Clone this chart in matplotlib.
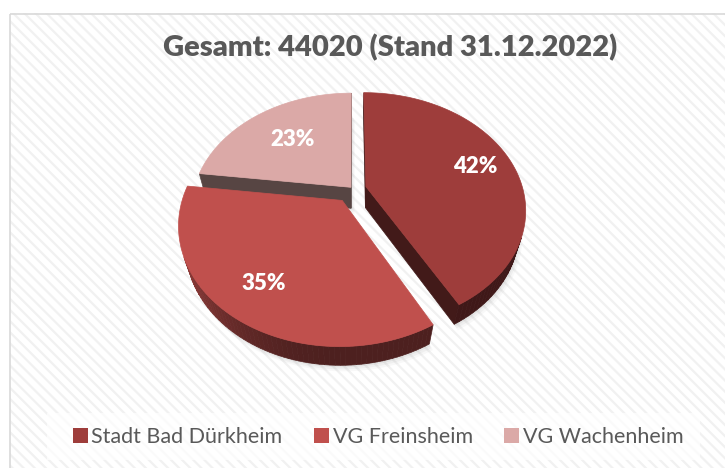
import numpy as np
import matplotlib.pyplot as plt
from matplotlib.patches import Rectangle, Patch

plt.rcParams['font.family'] = ['Lato', 'DejaVu Sans']
plt.rcParams['hatch.linewidth'] = 1.6

# data
labels = ['Stadt Bad Dürkheim', 'VG Freinsheim', 'VG Wachenheim']
shares = [42, 35, 23]
colors = ['#9e3d3b', '#c0504d', '#dba9a7']
title = 'Gesamt: 44020 (Stand 31.12.2022)'

explode = [0.085, 0.12, 0.02]
label_r = [0.75, 0.75, 0.62]

# fake 3d view (pixel coords of the figure)
cx, cy = 353, 189
S = 157
tilt = np.radians(46)
D = 3.6
h = 0.2
ca, sa = np.cos(tilt), np.sin(tilt)
cam = np.array([0.0, -D * ca, D * sa])


def proj(X, Y, Z):
    X = np.asarray(X, float)
    Y = np.asarray(Y, float)
    Z = np.asarray(Z, float)
    fwd = D + Y * ca - Z * sa
    up = Y * sa + Z * ca
    return cx + S * X * D / fwd, cy - S * up * D / fwd, fwd


def shade(c, f):
    rgb = np.array(plt.matplotlib.colors.to_rgb(c))
    return tuple(np.clip(rgb * f, 0, 1))


light = np.array([-1.0, 0.0])

fig = plt.figure(figsize=(7.25, 4.68), dpi=100)
ax = fig.add_axes([0, 0, 1, 1])
ax.set_xlim(0, 725)
ax.set_ylim(468, 0)
ax.axis('off')

# background with stripes
ax.add_patch(Rectangle((10, 13), 730, 470, facecolor='white', edgecolor='#f1f1f1',
                       hatch='\\\\\\', lw=0, zorder=0))
ax.add_patch(Rectangle((10.5, 13.5), 730, 470, fill=False, edgecolor='#d9d9d9', lw=1.2, zorder=1))
ax.add_patch(Rectangle((47, 413), 653, 47, facecolor='white', alpha=0.7, lw=0, zorder=1))

fracs = np.array(shares, float) / sum(shares)
edges = np.concatenate([[0], np.cumsum(fracs)]) * 2 * np.pi

faces = []
tops = []
shadows = []
for i in range(len(shares)):
    t0, t1 = edges[i], edges[i + 1]
    tm = (t0 + t1) / 2
    ox, oy = explode[i] * np.sin(tm), explode[i] * np.cos(tm)
    ths = np.linspace(t0, t1, 80)

    # top
    X = np.concatenate([[ox], ox + np.sin(ths)])
    Y = np.concatenate([[oy], oy + np.cos(ths)])
    xs, ys, _ = proj(X, Y, np.zeros_like(X))
    tops.append((xs, ys, colors[i]))
    xs, ys, _ = proj(X, Y, np.full_like(X, -h))
    shadows.append((xs, ys))

    # outer wall
    for k in range(len(ths) - 1):
        a, b = ths[k], ths[k + 1]
        m = (a + b) / 2
        n = np.array([np.sin(m), np.cos(m), 0])
        p = np.array([ox + np.sin(m), oy + np.cos(m), -h / 2])
        if np.dot(n, cam - p) <= 0:
            continue
        X = ox + np.array([np.sin(a), np.sin(b), np.sin(b), np.sin(a)])
        Y = oy + np.array([np.cos(a), np.cos(b), np.cos(b), np.cos(a)])
        Z = np.array([0, 0, -h, -h])
        xs, ys, fw = proj(X, Y, Z)
        f = 0.4 + 0.42 * max(0, np.dot(n[:2], light)) ** 2
        faces.append((fw.mean(), xs, ys, shade(colors[i], f)))

    # cut faces
    for t, n in [(t0, np.array([-np.cos(t0), np.sin(t0), 0])),
                 (t1, np.array([np.cos(t1), -np.sin(t1), 0]))]:
        p = np.array([ox + 0.5 * np.sin(t), oy + 0.5 * np.cos(t), -h / 2])
        if np.dot(n, cam - p) <= 0:
            continue
        X = ox + np.array([0, np.sin(t), np.sin(t), 0])
        Y = oy + np.array([0, np.cos(t), np.cos(t), 0])
        Z = np.array([0, 0, -h, -h])
        xs, ys, fw = proj(X, Y, Z)
        c = '#574543' if i == 2 else shade(colors[i], 0.42)
        faces.append((fw.mean(), xs, ys, c))

# soft shadow below the pie
for xs, ys in shadows:
    for d, al in [(6, 0.05), (4, 0.07), (2, 0.09)]:
        ax.fill(xs + d * 0.6, ys + d, color='#808080', alpha=al, lw=0, zorder=1.5)

faces.sort(key=lambda f: -f[0])
for _, xs, ys, c in faces:
    ax.fill(xs, ys, color=c, lw=0.5, zorder=2)
for xs, ys, c in tops:
    ax.fill(xs, ys, color=c, lw=0.5, zorder=3)

# percent labels
for i in range(len(shares)):
    tm = (edges[i] + edges[i + 1]) / 2
    r = label_r[i] + explode[i]
    lx, ly, _ = proj(r * np.sin(tm), r * np.cos(tm), 0)
    ax.text(lx, ly, f'{shares[i]}%', ha='center', va='center', color='white',
            fontsize=16, fontweight='heavy', zorder=4)

ax.text(390, 48, title, ha='center', va='center', fontsize=21, fontweight='heavy',
        color='#595959', zorder=4)

handles = [Patch(facecolor=c, label=l) for c, l in zip(colors, labels)]
fig.legend(handles=handles, ncol=3, loc='center', bbox_to_anchor=(378 / 725, 1 - 437 / 468),
           frameon=False, fontsize=15.5, handlelength=0.72, handleheight=0.72,
           handletextpad=0.15, columnspacing=1.45, labelcolor='#595959')

fig.savefig('out.png', dpi=100)
